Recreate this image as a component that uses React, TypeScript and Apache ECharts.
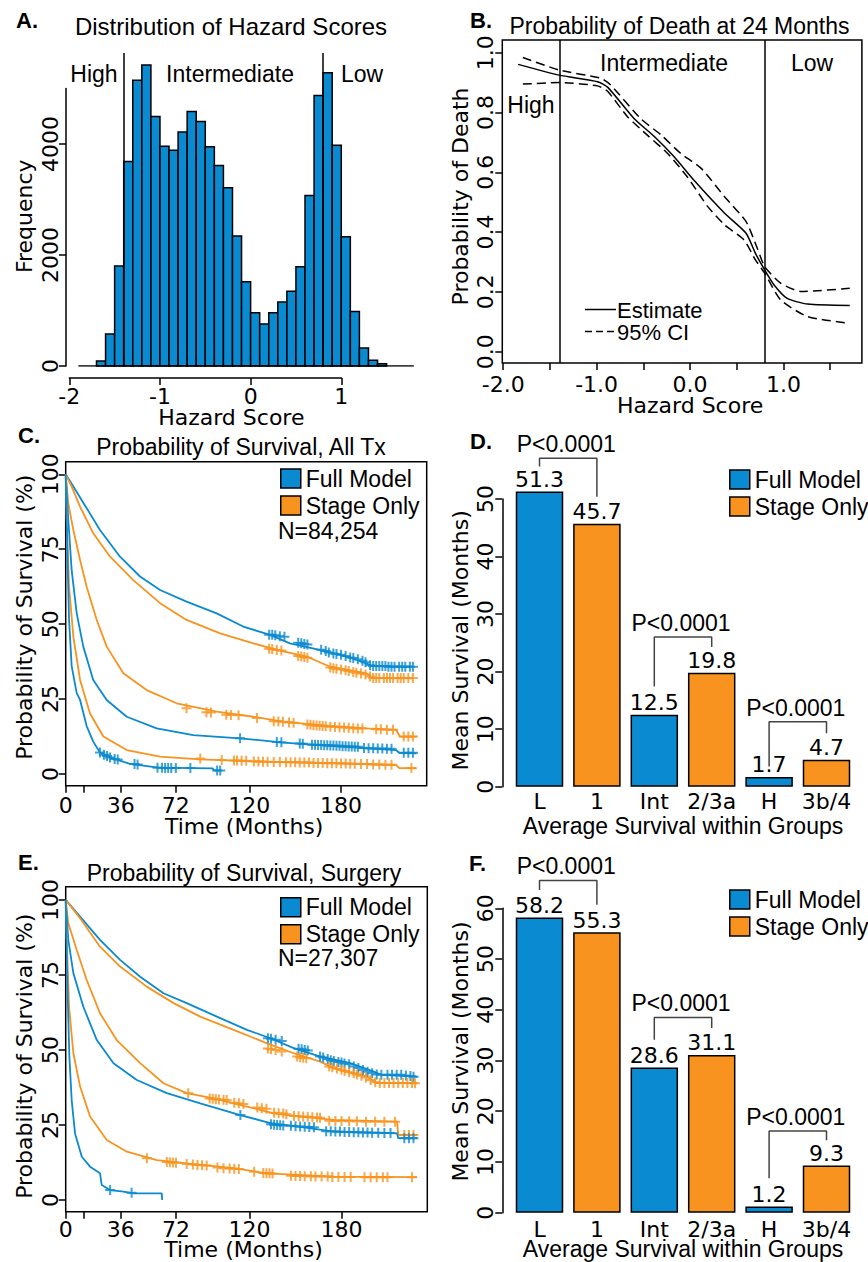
import React, { useEffect, useRef } from 'react';
import * as echarts from 'echarts';

const BLUE = '#0a8ad0';
const ORANGE = '#f7931e';
const FONT = '"Liberation Sans", Arial, Helvetica, sans-serif';
const AXFONT = '"DejaVu Sans", "Liberation Sans", sans-serif';
const PLUS = 'path://M4,0H6V4H10V6H6V10H4V6H0V4H4Z';

// ---------- Panel A: histogram of hazard scores ----------
const HIST_BIN_STARTS = [-1.7, -1.6, -1.5, -1.4, -1.3, -1.2, -1.1, -1.0, -0.9, -0.8, -0.7, -0.6, -0.5, -0.4, -0.3, -0.2, -0.1, 0, 0.1, 0.2, 0.3, 0.4, 0.5, 0.6, 0.7, 0.8, 0.9, 1.0, 1.1, 1.2, 1.3, 1.4];
const HIST_COUNTS = [90, 578, 1801, 3687, 5151, 5422, 4494, 3958, 3886, 4217, 4584, 4404, 3952, 3614, 3211, 2343, 1518, 958, 759, 958, 1151, 1349, 1789, 3072, 4873, 5283, 3976, 2331, 982, 325, 102, 42];
const HIST_BIN_WIDTH = 0.1;
const HIST_BASELINE = [-1.9, 1.8];
const GROUP_CUTS = [-1.4, 0.8];
const A_Y_TICKS = [0, 2000, 4000];
const A_X_TICKS = [-2, -1, 0, 1];

// ---------- Panel B: probability of death at 24 months ----------
const B_ESTIMATE = [[-1.84, 0.961], [-1.4, 0.925], [-0.99, 0.903], [-0.88, 0.884], [-0.6, 0.78], [-0.38, 0.719], [-0.17, 0.652], [0.04, 0.574], [0.37, 0.463], [0.6, 0.396], [0.7, 0.329], [0.8, 0.273], [0.9, 0.223], [1.04, 0.178], [1.26, 0.159], [1.71, 0.154]];
const B_UPPER = [[-1.79, 0.984], [-1.4, 0.942], [-0.95, 0.914], [-0.85, 0.892], [-0.53, 0.78], [-0.31, 0.725], [-0.1, 0.663], [0.12, 0.613], [0.37, 0.518], [0.6, 0.435], [0.72, 0.346], [0.8, 0.284], [0.97, 0.229], [1.19, 0.201], [1.71, 0.212]];
const B_LOWER = [[-1.79, 0.895], [-1.4, 0.9], [-0.99, 0.889], [-0.88, 0.87], [-0.67, 0.786], [-0.46, 0.725], [-0.24, 0.663], [-0.03, 0.585], [0.19, 0.485], [0.37, 0.424], [0.58, 0.373], [0.7, 0.307], [0.8, 0.262], [0.97, 0.173], [1.26, 0.117], [1.71, 0.095]];
const B_X_TICKS = [-2, -1.5, -1, -0.5, 0, 0.5, 1, 1.5];
const B_X_LABELS = [-2, -1, 0, 1];
const B_Y_TICKS = [0, 0.2, 0.4, 0.6, 0.8, 1.0];

// ---------- Panel C: survival, all treatments ----------
const T_TICKS = [0, 12, 36, 72, 120, 180];
const T_LABELS = [0, 36, 72, 120, 180];
const S_TICKS = [0, 25, 50, 75, 100];

const C_FULL_LOW = [[0, 100], [5, 95.9], [13.7, 88.7], [22.4, 81.4], [35.5, 72.5], [48.6, 65.9], [61.7, 61.4], [79, 57.5], [98.7, 53.6], [116, 49.2], [133.6, 46.4], [146.6, 43.6], [166, 41.4], [183.7, 39.2], [196.7, 36.9], [200, 36], [227, 35.8]];
const C_STAGE_1 = [[0, 100], [3.9, 95.9], [9.4, 89.2], [18, 80.3], [29, 72.5], [44.2, 64.7], [61.7, 57], [79, 51.4], [101, 46.9], [122.7, 43.6], [138, 41.4], [157.5, 39.2], [172.8, 35.8], [196.7, 33.6], [200, 32], [227, 31.9]];
const C_STAGE_23A = [[0, 100], [1.7, 90.3], [5, 81.4], [9.4, 71.4], [13.7, 62.5], [20.3, 51.4], [26.8, 42.5], [37.7, 33.6], [52.9, 28], [72.5, 23.6], [98.7, 20.8], [122.7, 19.1], [142.3, 17.5], [164, 16.4], [196.7, 15.2], [216, 14.7], [218.5, 12.5], [229.4, 12.5]];
const C_FULL_INT = [[0, 100], [1.7, 84.8], [3.9, 68], [7.2, 53.6], [11.5, 42.5], [18, 31.4], [26.8, 24.7], [39.9, 19.1], [59.5, 15.2], [83.4, 13], [113.9, 11.9], [142.3, 10.5], [164, 9.7], [196.7, 8.6], [216, 8], [218, 7.1], [229.4, 6.9]];
const C_STAGE_3B4 = [[0, 100], [0.7, 84.8], [2.2, 62.5], [5, 45.8], [9.4, 31.4], [15.9, 20.2], [24.6, 12.5], [39.9, 8], [61.7, 5.8], [87.8, 4.9], [131.4, 4.1], [175, 3.6], [216, 3.0], [218, 2.0], [229.4, 1.9]];
const C_FULL_HIGH = [[0, 100], [1.1, 73.6], [2.2, 51.4], [3.9, 36], [7.2, 27], [9.4, 24.7], [13.7, 16], [18, 10.8], [22.4, 7.2], [29, 5.5], [42, 3.4], [60.6, 2.1], [96, 1.9], [97, 1.2], [101, 1.2]];

const C_CENS_FULL_LOW = [[133, 46.5], [135, 46.5], [137, 46.3], [140, 46], [143, 45.8], [152, 43.8], [154, 43.6], [156, 43.4], [158, 43.2], [167, 41.5], [170, 41], [172, 40.5], [175, 40.2], [177, 40], [180, 39.8], [183, 39.4], [186, 38.9], [188, 38.7], [191, 38.3], [194, 37.8], [196, 37.3], [199, 36.3], [201, 36], [203, 36], [205, 36], [207, 36], [209, 36], [211, 35.8], [213, 35.8], [215, 35.8], [218, 35.8], [220, 35.8], [222, 35.8], [225, 35.8], [227, 35.8]];
const C_CENS_STAGE_1 = [[133, 41.8], [135, 41.6], [138, 41.4], [141, 41.2], [152, 39.4], [154, 39.2], [156, 39], [158, 38.8], [173, 35.5], [175, 35.3], [177, 35.1], [180, 34.9], [183, 34.6], [185, 34.4], [188, 34], [190, 33.8], [193, 33.5], [196, 33.2], [199, 32.5], [201, 32], [203, 32], [205, 32], [208, 32], [210, 32], [212, 32], [214, 32], [217, 32], [219, 32], [221, 32], [224, 32], [227, 32]];
const C_CENS_STAGE_23A = [[79, 21.9], [92, 20.6], [95, 20.5], [105, 19.8], [108, 19.7], [113, 19.6], [125, 18.7], [136, 17.6], [139, 17.5], [142, 17.4], [146, 17.2], [149, 17.1], [158, 16.5], [160, 16.4], [162, 16.3], [164, 16.2], [166, 16.1], [168, 16], [170, 15.9], [173, 15.8], [176, 15.7], [179, 15.6], [182, 15.5], [185, 15.4], [188, 15.3], [191, 15.2], [194, 15.2], [203, 14.9], [206, 14.9], [210, 14.8], [214, 14.8], [221, 12.5], [224, 12.5], [227, 12.5]];
const C_CENS_FULL_INT = [[114, 11.9], [138, 10.7], [141, 10.6], [153, 10.2], [155, 10.1], [161, 9.8], [163, 9.8], [165, 9.7], [167, 9.7], [169, 9.6], [171, 9.6], [173, 9.5], [175, 9.5], [177, 9.4], [179, 9.4], [181, 9.3], [183, 9.3], [185, 9.2], [187, 9.2], [189, 9.1], [191, 9.1], [195, 8.7], [198, 8.6], [201, 8.6], [204, 8.5], [207, 8.5], [210, 8.4], [213, 8.4], [221, 7.1], [224, 7.1], [227, 7.1]];
const C_CENS_STAGE_3B4 = [[88, 5.2], [102, 4.7], [110, 4.5], [112, 4.5], [115, 4.4], [118, 4.4], [123, 4.2], [126, 4.2], [129, 4.1], [132, 4.1], [136, 4.0], [140, 4.0], [144, 3.9], [147, 3.9], [150, 3.9], [153, 3.8], [156, 3.8], [159, 3.8], [162, 3.7], [165, 3.7], [168, 3.7], [171, 3.6], [174, 3.6], [177, 3.6], [180, 3.5], [183, 3.5], [186, 3.4], [189, 3.4], [193, 3.3], [197, 3.3], [201, 3.2], [205, 3.2], [209, 3.1], [213, 3.1], [226, 2.0]];
const C_CENS_FULL_HIGH = [[22.4, 7.2], [25, 6.4], [27, 6.0], [29, 5.5], [32, 5.0], [34, 4.8], [45, 3.3], [47, 3.2], [60, 2.1], [63, 2.1], [65, 2.0], [67, 2.0], [69, 2.0], [72, 2.0], [81.5, 2.0], [99, 1.2], [101, 1.2]];

// ---------- Panel E: survival, surgery ----------
const E_FULL_LOW = [[0, 100], [9.4, 94.4], [22.4, 86.7], [35.5, 80], [48.6, 74.4], [63.8, 68.9], [79, 65.6], [98.7, 61.1], [118.3, 56.7], [133.6, 53.9], [148.8, 50.6], [166.2, 47.8], [185.8, 45.6], [201, 42.8], [206, 41.7], [229.4, 41.1]];
const E_STAGE_1 = [[0, 100], [9.4, 93.9], [22.4, 84.4], [35.5, 77.8], [52.9, 71.1], [70.4, 65.6], [87.8, 61.1], [109.6, 56.7], [131.4, 52.2], [148.8, 48.9], [166.2, 46.1], [175, 43.9], [196.7, 41.1], [203, 39], [229.4, 38.9]];
const E_STAGE_23A = [[0, 100], [1.7, 92.2], [7.2, 83.3], [13.7, 73.3], [22.4, 62.2], [33.3, 53.3], [48.6, 45.6], [63.8, 38.9], [79, 35.6], [96.5, 33.9], [118.3, 31.1], [135.7, 28.9], [153.2, 27.8], [175, 26.7], [216.3, 26.1], [217, 21.7], [229.4, 21.7]];
const E_FULL_INT = [[0, 100], [1.7, 86.7], [5, 75.6], [11.5, 64.4], [20.3, 53.3], [31.2, 45.6], [46.4, 40], [66, 35.6], [87.8, 32.2], [113.9, 28.3], [133.6, 25.6], [153.2, 24.4], [175, 22.8], [216.3, 22.2], [217, 20.6], [229.4, 20.6]];
const E_STAGE_3B4 = [[0, 100], [0.7, 86.7], [2.2, 64.4], [5, 48.9], [9.4, 37.8], [15.9, 27.8], [26.8, 20], [39.9, 16.1], [59.5, 13.3], [79, 12.2], [109.6, 10.6], [131.4, 8.9], [175, 7.8], [229.4, 7.6]];
const E_FULL_HIGH = [[0, 100], [0.7, 81.1], [1.5, 64.4], [2.4, 47.8], [3.9, 33.3], [6.1, 22.2], [10.5, 14.4], [15.9, 11.1], [22.4, 8.9], [23.5, 5], [29, 3.3], [37.7, 2.8], [44.2, 2.2], [62.7, 2.2], [63, 0]];

const E_CENS_FULL_LOW = [[132, 53.9], [134, 53.7], [137, 53.4], [141, 53.0], [152, 50.4], [154, 50.2], [156, 50], [158, 49.8], [166, 47.8], [168, 47.5], [171, 47], [173, 46.6], [175, 46.3], [178, 46], [180, 45.8], [182, 45.5], [185, 45.2], [188, 44.5], [191, 44], [194, 43.3], [197, 42.7], [200, 42.2], [203, 41.8], [206, 41.7], [210, 41.7], [213, 41.7], [216, 41.7], [219, 41.7], [222, 41.5], [225, 41.3], [227, 41.1]];
const E_CENS_STAGE_1 = [[132, 50.5], [134, 50.2], [137, 50], [141, 49.5], [151, 47.8], [153, 47.6], [155, 47.4], [157, 47.2], [172, 44.5], [174, 44.2], [177, 43.8], [180, 43.4], [182, 43], [185, 42.6], [188, 42.2], [190, 41.8], [193, 41.4], [196, 40.8], [199, 40], [202, 39.2], [205, 39], [208, 39], [211, 39], [214, 39], [217, 39], [220, 39], [223, 39], [226, 39], [228, 38.9]];
const E_CENS_STAGE_23A = [[80, 35.6], [94, 33.8], [96, 33.7], [98, 33.6], [100, 33.5], [103, 33.4], [105, 33.3], [110, 32.4], [113, 32.2], [116, 32], [125, 30.8], [128, 30.6], [131, 30.4], [136, 29.1], [139, 28.9], [142, 28.8], [144, 28.6], [149, 28], [152, 27.9], [155, 27.8], [158, 27.7], [161, 27.6], [164, 27.5], [166, 27.4], [172, 26.4], [176, 26.3], [180, 26.3], [185, 26.2], [190, 26.2], [196, 26.1], [202, 26.1], [208, 26.1], [215, 26.1], [221, 21.7], [224, 21.7], [227, 21.7]];
const E_CENS_FULL_INT = [[114, 28.3], [134, 25.2], [136, 25.1], [138, 25], [140, 24.9], [142, 24.8], [147, 24.7], [150, 24.6], [153, 24.5], [156, 24.4], [159, 24.3], [162, 24.2], [170, 22.9], [173, 22.9], [176, 22.8], [179, 22.8], [182, 22.7], [185, 22.7], [188, 22.6], [191, 22.6], [194, 22.5], [197, 22.5], [200, 22.4], [204, 22.4], [208, 22.3], [212, 22.3], [221, 20.6], [224, 20.6], [227, 20.6]];
const E_CENS_STAGE_3B4 = [[53, 13.9], [66, 12.7], [68, 12.6], [70, 12.5], [72, 12.4], [79, 12], [83, 11.8], [86, 11.7], [89, 11.6], [92, 11.5], [99, 10.8], [103, 10.6], [107, 10.5], [110, 10.4], [113, 10.3], [123, 9.4], [129, 9.0], [131, 8.9], [133, 8.9], [135, 8.8], [147, 8.1], [150, 8], [153, 8], [156, 7.9], [160, 7.9], [163, 7.8], [167, 7.8], [171, 7.8], [174, 7.7], [178, 7.7], [182, 7.7], [186, 7.7], [195, 7.6], [199, 7.6], [203, 7.6], [207, 7.6], [210, 7.6], [226, 7.6]];
const E_CENS_FULL_HIGH = [[29, 3.3], [43, 2.4]];

// ---------- Panels D and F: mean survival within groups ----------
const GROUP_CATS = ['L', '1', 'Int', '2/3a', 'H', '3b/4'];
const D_FULL_MODEL = [51.3, null, 12.5, null, 1.7, null];
const D_STAGE_ONLY = [null, 45.7, null, 19.8, null, 4.7];
const F_FULL_MODEL = [58.2, null, 28.6, null, 1.2, null];
const F_STAGE_ONLY = [null, 55.3, null, 31.1, null, 9.3];
const D_BRACKETS = [
  { a: 0, b: 1, top: 57.1, endA: 55.65, endB: 50.4 },
  { a: 2, b: 3, top: 26.0, endA: 17.4, endB: 24.3 },
  { a: 4, b: 5, top: 11.3, endA: 3.5, endB: 9.3 },
];
const F_BRACKETS = [
  { a: 0, b: 1, top: 65.5, endA: 63.6, endB: 60.7 },
  { a: 2, b: 3, top: 38.5, endA: 34.1, endB: 36.4 },
  { a: 4, b: 5, top: 16.1, endA: 6.8, endB: 14.3 },
];
const P_TEXT = 'P<0.0001';

// ---------- helpers ----------
const LH = 16;
const TXT = { color: '#000', fontSize: 23, fontFamily: FONT };
const AX = { color: '#000', fontSize: 22, fontFamily: AXFONT, lineHeight: LH };
const NAME = { color: '#000', fontSize: 22, fontFamily: AXFONT, lineHeight: LH };
const TICK = { show: true, inside: false, length: 7, lineStyle: { color: '#000', width: 1.5 } };
const LINE_ON = { show: true, onZero: false, lineStyle: { color: '#000', width: 1.5 } };
const LINE_OFF = { show: false, onZero: false };
const OFF = { show: false };

function valueAxis(gi: number, o: any) {
  return {
    type: 'value', gridIndex: gi, splitLine: OFF, nameMoveOverlap: false,
    nameLocation: 'middle', nameTextStyle: NAME, ...o,
  };
}

function nameStyle(padding: number[], extra: any = {}) {
  return { ...NAME, padding, ...extra };
}

function txt(text: string, x: number, y: number, o: any = {}) {
  const align = o.align || 'center';
  return {
    type: 'text', x, y, silent: true,
    style: {
      text, fill: '#000', fontSize: o.size || 23, fontFamily: FONT, fontWeight: o.weight || 'normal',
      textAlign: align, align, textVerticalAlign: 'middle', verticalAlign: 'middle',
    },
  };
}

function survivalSeries(gi: number, curves: any[]) {
  const out: any[] = [];
  curves.forEach(([name, data, cens, color]) => {
    out.push({
      type: 'line', name, xAxisIndex: gi, yAxisIndex: gi, data, symbol: 'none', silent: true,
      lineStyle: { color, width: 1.8 }, z: 3,
    });
    out.push({
      type: 'scatter', name: name + ' censored', xAxisIndex: gi, yAxisIndex: gi, data: cens,
      symbol: PLUS, symbolSize: 10, itemStyle: { color }, silent: true, z: 4,
    });
  });
  return out;
}

function barSeries(gi: number, full: any[], stage: any[], brackets: any[]) {
  const common = {
    type: 'bar', xAxisIndex: gi, yAxisIndex: gi, barWidth: 47.5, barGap: '-100%', clip: false, silent: true,
    label: { show: true, position: 'top', distance: 1, color: '#000', fontSize: 22, fontFamily: AXFONT },
  };
  const out: any[] = [
    { ...common, name: 'Full Model', data: full, itemStyle: { color: BLUE, borderColor: '#000', borderWidth: 1.5 } },
    { ...common, name: 'Stage Only', data: stage, itemStyle: { color: ORANGE, borderColor: '#000', borderWidth: 1.5 } },
  ];
  brackets.forEach((b, i) => {
    out.push({
      type: 'line', name: 'bracket' + gi + '-' + i, xAxisIndex: gi, yAxisIndex: gi, clip: false, silent: true,
      symbol: 'none', lineStyle: { color: '#444', width: 1.5 },
      data: [[b.a, b.endA], [b.a, b.top], [b.b, b.top], [b.b, b.endB]],
    });
  });
  return out;
}

const LEGEND_BASE = {
  data: ['Full Model', 'Stage Only'], orient: 'vertical', icon: 'rect', itemWidth: 20, itemHeight: 19,
  itemGap: 4, padding: 0, selectedMode: false,
  itemStyle: { borderColor: '#000', borderWidth: 1.5 }, textStyle: TXT,
};

function buildOption() {
  const grid = [
    { left: 69.3, top: 53, width: 344.5, height: 313 },      // 0 A main
    { left: 66, top: 88.5, width: 10, height: 277.5 },       // 1 A y axis
    { left: 69.3, top: 370, width: 272, height: 8 },         // 2 A x axis
    { left: 502.3, top: 40, width: 359.6, height: 323, show: true, borderColor: '#000', borderWidth: 1.5 }, // 3 B
    { left: 65.7, top: 461.7, width: 361, height: 324, show: true, borderColor: '#000', borderWidth: 1.5 }, // 4 C
    { left: 510.8, top: 499, width: 344.4, height: 287.7 },  // 5 D
    { left: 65.7, top: 886.7, width: 361.6, height: 325, show: true, borderColor: '#000', borderWidth: 1.5 }, // 6 E
    { left: 510.8, top: 908.3, width: 344.4, height: 304.4 }, // 7 F
  ].map((g) => ({ outerBoundsMode: 'none', containLabel: false, backgroundColor: 'transparent', ...g }));

  const xAxis = [
    valueAxis(0, { min: -2, max: 1.8, show: false, axisLine: LINE_OFF }),
    valueAxis(1, { min: 0, max: 1, show: false, axisLine: LINE_OFF }),
    valueAxis(2, {
      min: -2, max: 1, interval: 1, axisLine: LINE_ON, axisTick: { ...TICK, customValues: A_X_TICKS },
      axisLabel: { ...AX, margin: 10, customValues: A_X_TICKS }, name: 'Hazard Score', nameGap: 31,
      nameTextStyle: nameStyle([0, 0, 0, 52]),
    }),
    valueAxis(3, {
      min: -2.01, max: 1.84, axisLine: LINE_OFF, axisTick: { ...TICK, customValues: B_X_TICKS },
      axisLabel: { ...AX, margin: 13, customValues: B_X_LABELS, formatter: (v: number) => v.toFixed(1) },
      name: 'Hazard Score', nameGap: 34, nameTextStyle: nameStyle([0, 0, 0, 16]),
    }),
    valueAxis(4, {
      min: 0, max: 236, axisLine: LINE_OFF, axisTick: { ...TICK, customValues: T_TICKS },
      axisLabel: { ...AX, margin: 12, customValues: T_LABELS }, name: 'Time (Months)', nameGap: 33,
      nameTextStyle: nameStyle([0, 4, 0, 0]),
    }),
    {
      type: 'category', gridIndex: 5, data: GROUP_CATS, axisLine: LINE_OFF, axisTick: OFF, nameMoveOverlap: false,
      axisLabel: { ...AX, margin: 7, interval: 0 }, name: 'Average Survival within Groups',
      nameLocation: 'middle', nameGap: 31, nameTextStyle: { ...TXT, lineHeight: LH },
    },
    valueAxis(6, {
      min: 0, max: 236, axisLine: LINE_OFF, axisTick: { ...TICK, customValues: T_TICKS },
      axisLabel: { ...AX, margin: 10, customValues: T_LABELS }, name: 'Time (Months)', nameGap: 29.5,
      nameTextStyle: nameStyle([0, 6, 0, 0]),
    }),
    {
      type: 'category', gridIndex: 7, data: GROUP_CATS, axisLine: LINE_OFF, axisTick: OFF, nameMoveOverlap: false,
      axisLabel: { ...AX, margin: 9, interval: 0 }, name: 'Average Survival within Groups',
      nameLocation: 'middle', nameGap: 28, nameTextStyle: { ...TXT, lineHeight: LH },
    },
  ];

  const yAxis = [
    valueAxis(0, { min: 0, max: 5640, show: false, axisLine: LINE_OFF }),
    valueAxis(1, {
      min: 0, max: 5000, axisLine: LINE_ON, axisTick: { ...TICK, customValues: A_Y_TICKS },
      axisLabel: { ...AX, rotate: 90, margin: 8, customValues: A_Y_TICKS, formatter: (v: number) => String(v) },
      name: 'Frequency', nameGap: 34, nameTextStyle: nameStyle([0, 0, 0, 22]),
    }),
    valueAxis(2, { min: 0, max: 1, show: false, axisLine: LINE_OFF }),
    valueAxis(3, {
      min: -0.038, max: 1.0425, axisLine: LINE_OFF, axisTick: { ...TICK, customValues: B_Y_TICKS },
      axisLabel: { ...AX, rotate: 90, margin: 9, customValues: B_Y_TICKS, formatter: (v: number) => v.toFixed(1) },
      name: 'Probability of Death', nameGap: 34, nameTextStyle: nameStyle([0, 0, 0, 10]),
    }),
    valueAxis(4, {
      min: -3.9, max: 104.2, axisLine: LINE_OFF, axisTick: { ...TICK, customValues: S_TICKS },
      axisLabel: { ...AX, rotate: 90, margin: 7.5, customValues: S_TICKS }, name: 'Probability of Survival (%)', nameGap: 33.5,
      nameTextStyle: nameStyle([0, 0, 0, 13]),
    }),
    valueAxis(5, {
      min: 0, max: 50, interval: 10, offset: 8.5, axisLine: LINE_ON, axisTick: TICK,
      axisLabel: { ...AX, rotate: 90, margin: 9 }, name: 'Mean Survival (Months)', nameGap: 33.5,
      nameTextStyle: nameStyle([0, 0, 0, 5]),
    }),
    valueAxis(6, {
      min: -3.9, max: 104.4, axisLine: LINE_OFF, axisTick: { ...TICK, customValues: S_TICKS },
      axisLabel: { ...AX, rotate: 90, margin: 7.5, customValues: S_TICKS }, name: 'Probability of Survival (%)', nameGap: 33.5,
      nameTextStyle: nameStyle([0, 14, 0, 0]),
    }),
    valueAxis(7, {
      min: 0, max: 60, interval: 10, offset: 8.5, axisLine: LINE_ON, axisTick: TICK,
      axisLabel: { ...AX, rotate: 90, margin: 8.5 }, name: 'Mean Survival (Months)', nameGap: 33.5,
      nameTextStyle: nameStyle([0, 0, 0, 18]),
    }),
  ];

  const cutMarkLine = {
    silent: true, symbol: ['none', 'none'], label: { show: false },
    lineStyle: { color: '#000', width: 1.5, type: 'solid' },
    data: GROUP_CUTS.map((v) => ({ xAxis: v })),
  };

  const series: any[] = [
    ...barSeries(5, D_FULL_MODEL, D_STAGE_ONLY, D_BRACKETS),
    ...barSeries(7, F_FULL_MODEL, F_STAGE_ONLY, F_BRACKETS),
    {
      type: 'custom', name: 'Histogram', xAxisIndex: 0, yAxisIndex: 0, silent: true,
      data: HIST_BIN_STARTS.map((b, i) => [b, HIST_COUNTS[i]]),
      renderItem: (_p: any, api: any) => {
        const x0 = api.value(0);
        const h = api.value(1);
        const p0 = api.coord([x0, 0]);
        const p1 = api.coord([x0 + HIST_BIN_WIDTH, h]);
        return {
          type: 'rect',
          shape: { x: p0[0], y: p1[1], width: p1[0] - p0[0], height: p0[1] - p1[1] },
          style: { fill: BLUE, stroke: '#000', lineWidth: 1.5 },
        };
      },
    },
    {
      type: 'line', name: 'Baseline', xAxisIndex: 0, yAxisIndex: 0, symbol: 'none', silent: true,
      data: [[HIST_BASELINE[0], 0], [HIST_BASELINE[1], 0]], lineStyle: { color: '#000', width: 1.5 },
      markLine: cutMarkLine, z: 5,
    },
    {
      type: 'line', name: 'Estimate', xAxisIndex: 3, yAxisIndex: 3, data: B_ESTIMATE, smooth: 0.2,
      symbol: 'none', silent: true, lineStyle: { color: '#000', width: 1.5, type: 'solid' }, markLine: cutMarkLine,
    },
    {
      type: 'line', name: '95% CI', xAxisIndex: 3, yAxisIndex: 3, data: B_UPPER, smooth: 0.2,
      symbol: 'none', silent: true, lineStyle: { color: '#000', width: 1.5, type: [9, 5] },
    },
    {
      type: 'line', name: '95% CI', xAxisIndex: 3, yAxisIndex: 3, data: B_LOWER, smooth: 0.2,
      symbol: 'none', silent: true, lineStyle: { color: '#000', width: 1.5, type: [9, 5] },
    },
    ...survivalSeries(4, [
      ['C Full L', C_FULL_LOW, C_CENS_FULL_LOW, BLUE],
      ['C Stage 1', C_STAGE_1, C_CENS_STAGE_1, ORANGE],
      ['C Stage 2/3a', C_STAGE_23A, C_CENS_STAGE_23A, ORANGE],
      ['C Full Int', C_FULL_INT, C_CENS_FULL_INT, BLUE],
      ['C Stage 3b/4', C_STAGE_3B4, C_CENS_STAGE_3B4, ORANGE],
      ['C Full H', C_FULL_HIGH, C_CENS_FULL_HIGH, BLUE],
    ]),
    ...survivalSeries(6, [
      ['E Full L', E_FULL_LOW, E_CENS_FULL_LOW, BLUE],
      ['E Stage 1', E_STAGE_1, E_CENS_STAGE_1, ORANGE],
      ['E Stage 2/3a', E_STAGE_23A, E_CENS_STAGE_23A, ORANGE],
      ['E Full Int', E_FULL_INT, E_CENS_FULL_INT, BLUE],
      ['E Stage 3b/4', E_STAGE_3B4, E_CENS_STAGE_3B4, ORANGE],
      ['E Full H', E_FULL_HIGH, E_CENS_FULL_HIGH, BLUE],
    ]),
  ];

  const legend = [
    { ...LEGEND_BASE, left: 280, top: 467 },
    { ...LEGEND_BASE, left: 729, top: 468 },
    { ...LEGEND_BASE, left: 280, top: 895.7 },
    { ...LEGEND_BASE, left: 729, top: 888 },
  ];

  return {
    animation: false,
    backgroundColor: '#fff',
    textStyle: { fontFamily: FONT },
    grid, xAxis, yAxis, series, legend,
  };
}

function buildGraphic(chart: any) {
  const els: any[] = [
    txt('A.', 16, 20, { align: 'left', weight: 900, size: 22 }),
    txt('B.', 470, 20, { align: 'left', weight: 900, size: 22 }),
    txt('C.', 18, 435, { align: 'left', weight: 900, size: 22 }),
    txt('D.', 470, 441, { align: 'left', weight: 900, size: 22 }),
    txt('E.', 18, 862, { align: 'left', weight: 900, size: 22 }),
    txt('F.', 469, 863, { align: 'left', weight: 900, size: 22 }),
    txt('Distribution of Hazard Scores', 231, 26, { size: 24 }),
    txt('Probability of Death at 24 Months', 679.5, 26),
    txt('Probability of Survival, All Tx', 241, 447),
    txt('Probability of Survival, Surgery', 244, 873),
    txt('High', 94, 74), txt('Intermediate', 230, 74), txt('Low', 362, 74),
    txt('Intermediate', 664, 63), txt('Low', 812, 63), txt('High', 531, 105),
    txt('N=84,254', 278, 531, { align: 'left' }),
    txt('N=27,307', 278, 958, { align: 'left' }),
    { type: 'line', silent: true, shape: { x1: 585, y1: 309.5, x2: 616, y2: 309.5 }, style: { stroke: '#000', lineWidth: 1.5 } },
    { type: 'line', silent: true, shape: { x1: 585, y1: 331.5, x2: 616, y2: 331.5 }, style: { stroke: '#000', lineWidth: 1.5, lineDash: [7, 4] } },
    txt('Estimate', 617, 310, { align: 'left', size: 22 }),
    txt('95% CI', 617, 332, { align: 'left', size: 22 }),
  ];
  ([[5, D_BRACKETS], [7, F_BRACKETS]] as any[]).forEach(([gi, brs]) => {
    brs.forEach((b: any) => {
      const pa = chart.convertToPixel({ gridIndex: gi }, [b.a, b.top]);
      const pb = chart.convertToPixel({ gridIndex: gi }, [b.b, b.top]);
      if (pa && pb) els.push(txt(P_TEXT, (pa[0] + pb[0]) / 2 - 2, pa[1] - 14));
    });
  });
  return { elements: els };
}

export default function App() {
  const ref = useRef<HTMLDivElement>(null);
  useEffect(() => {
    const chart = echarts.init(ref.current as HTMLDivElement, null, { renderer: 'svg' });
    chart.setOption(buildOption() as any);
    chart.setOption({ graphic: buildGraphic(chart) } as any);
    return () => chart.dispose();
  }, []);
  return (
    <div
      ref={ref}
      style={{ position: 'absolute', left: 0, top: 0, width: 868, height: 1262, background: '#fff' }}
    />
  );
}
